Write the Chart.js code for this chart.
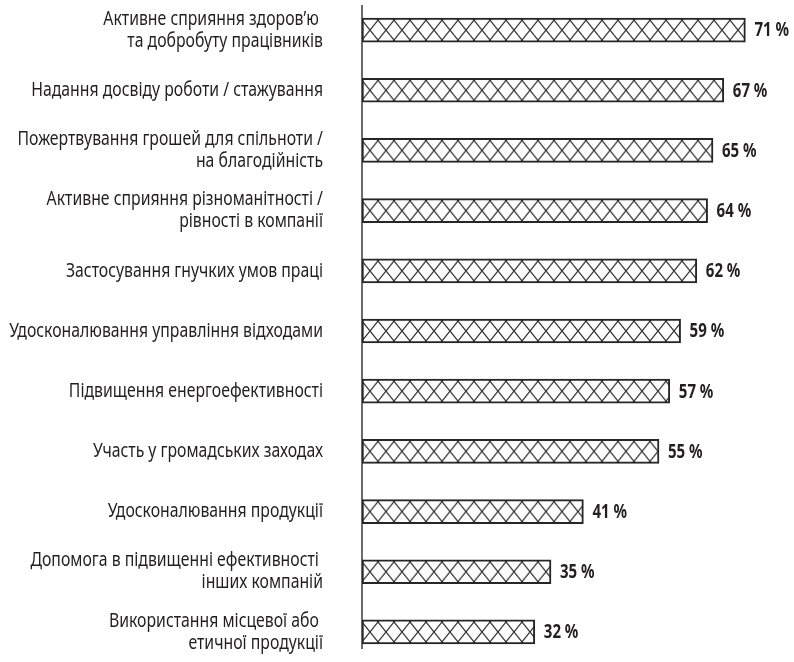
<!DOCTYPE html>
<html>
<head>
<meta charset="utf-8">
<script src="https://cdn.jsdelivr.net/npm/chart.js@4"></script>
<style>
  body { margin: 0; background: #fff; }
  #chart { display: block; }
</style>
</head>
<body>
<canvas id="chart" width="794" height="662"></canvas>
<script>
// категорії (багаторядкові підписи осі)
const categories = [
  ['Активне сприяння здоров’ю ', 'та добробуту працівників'],
  'Надання досвіду роботи / стажування',
  ['Пожертвування грошей для спільноти /', 'на благодійність'],
  ['Активне сприяння різноманітності /', 'рівності в компанії'],
  'Застосування гнучких умов праці',
  'Удосконалювання управління відходами',
  'Підвищення енергоефективності',
  'Участь у громадських заходах',
  'Удосконалювання продукції',
  ['Допомога в підвищенні ефективності ', 'інших компаній'],
  ['Використання місцевої або ', 'етичної продукції']
];

const values = [71, 67, 65, 64, 62, 59, 57, 55, 41, 35, 32]; // %

const FONT = "'Noto Sans', 'Open Sans', sans-serif";
const INK = '#231f20';
const SQUEEZE = 0.79; // вужчий (condensed) вигляд тексту
const LABEL_GAP = 39;
const LINE_H = 22;

// плитка штрихування (ромбова сітка)
let hatchTile = null;
function getTile() {
  if (hatchTile) return hatchTile;
  const c = document.createElement('canvas');
  c.width = 16;
  c.height = 20;
  const g = c.getContext('2d');
  g.fillStyle = '#fff';
  g.fillRect(0, 0, 16, 20);
  g.strokeStyle = '#2b2b2b';
  g.lineWidth = 1.1;
  g.beginPath();
  g.moveTo(0, 0); g.lineTo(16, 20);
  g.moveTo(16, 0); g.lineTo(0, 20);
  g.stroke();
  hatchTile = c;
  return c;
}

function hatch(context) {
  const chart = context.chart;
  const pattern = chart.ctx.createPattern(getTile(), 'repeat');
  const y = chart.scales.y;
  if (y && chart.chartArea) {
    const top = y.getPixelForValue(context.dataIndex) - 12 + 2;
    pattern.setTransform(new DOMMatrix([1, 0, 0, 1, chart.chartArea.left, top]));
  }
  return pattern;
}

function squeezedText(ctx, text, x, y) {
  ctx.save();
  ctx.translate(x, y);
  ctx.scale(SQUEEZE, 1);
  ctx.fillText(text, 0, 0);
  ctx.restore();
}

// вертикальна лінія осі
const axisLine = {
  id: 'axisLine',
  beforeDatasetsDraw(chart) {
    const { ctx, chartArea } = chart;
    ctx.save();
    ctx.strokeStyle = '#3a3a3a';
    ctx.lineWidth = 1.5;
    ctx.beginPath();
    ctx.moveTo(chartArea.left, 5);
    ctx.lineTo(chartArea.left, 649);
    ctx.stroke();
    ctx.restore();
  }
};

// підписи категорій ліворуч від осі
const categoryLabels = {
  id: 'categoryLabels',
  afterDraw(chart) {
    const { ctx, chartArea } = chart;
    const y = chart.scales.y;
    const right = chartArea.left - LABEL_GAP;
    ctx.save();
    ctx.font = '20px ' + FONT;
    ctx.fillStyle = INK;
    ctx.textAlign = 'right';
    ctx.textBaseline = 'middle';
    categories.forEach((label, i) => {
      const lines = Array.isArray(label) ? label : [label];
      const cy = y.getPixelForValue(i);
      lines.forEach((line, k) => {
        const ly = cy + (k - (lines.length - 1) / 2) * LINE_H;
        squeezedText(ctx, line, right, ly);
      });
    });
    ctx.restore();
  }
};

// підписи значень праворуч від стовпців
const valueLabels = {
  id: 'valueLabels',
  afterDatasetsDraw(chart) {
    const { ctx } = chart;
    const meta = chart.getDatasetMeta(0);
    ctx.save();
    ctx.font = 'bold 19px ' + FONT;
    ctx.fillStyle = INK;
    ctx.textBaseline = 'middle';
    meta.data.forEach((bar, i) => {
      squeezedText(ctx, values[i] + ' %', bar.x + 9, bar.y + 1);
    });
    ctx.restore();
  }
};

new Chart(document.getElementById('chart'), {
  type: 'bar',
  data: {
    labels: categories,
    datasets: [{
      data: values,
      backgroundColor: hatch,
      borderColor: '#262626',
      borderWidth: 2,
      borderSkipped: false,
      barThickness: 24
    }]
  },
  options: {
    indexAxis: 'y',
    responsive: false,
    animation: false,
    layout: { padding: 0 },
    plugins: {
      legend: { display: false },
      tooltip: { enabled: false }
    },
    scales: {
      x: {
        display: false,
        min: 0,
        max: 80
      },
      y: {
        grid: { display: false },
        border: { display: false },
        ticks: { display: false },
        afterFit(scale) {
          scale.width = 362;
          scale.paddingTop = 0;
          scale.paddingBottom = 0;
        }
      }
    }
  },
  plugins: [axisLine, categoryLabels, valueLabels]
});
</script>
</body>
</html>
